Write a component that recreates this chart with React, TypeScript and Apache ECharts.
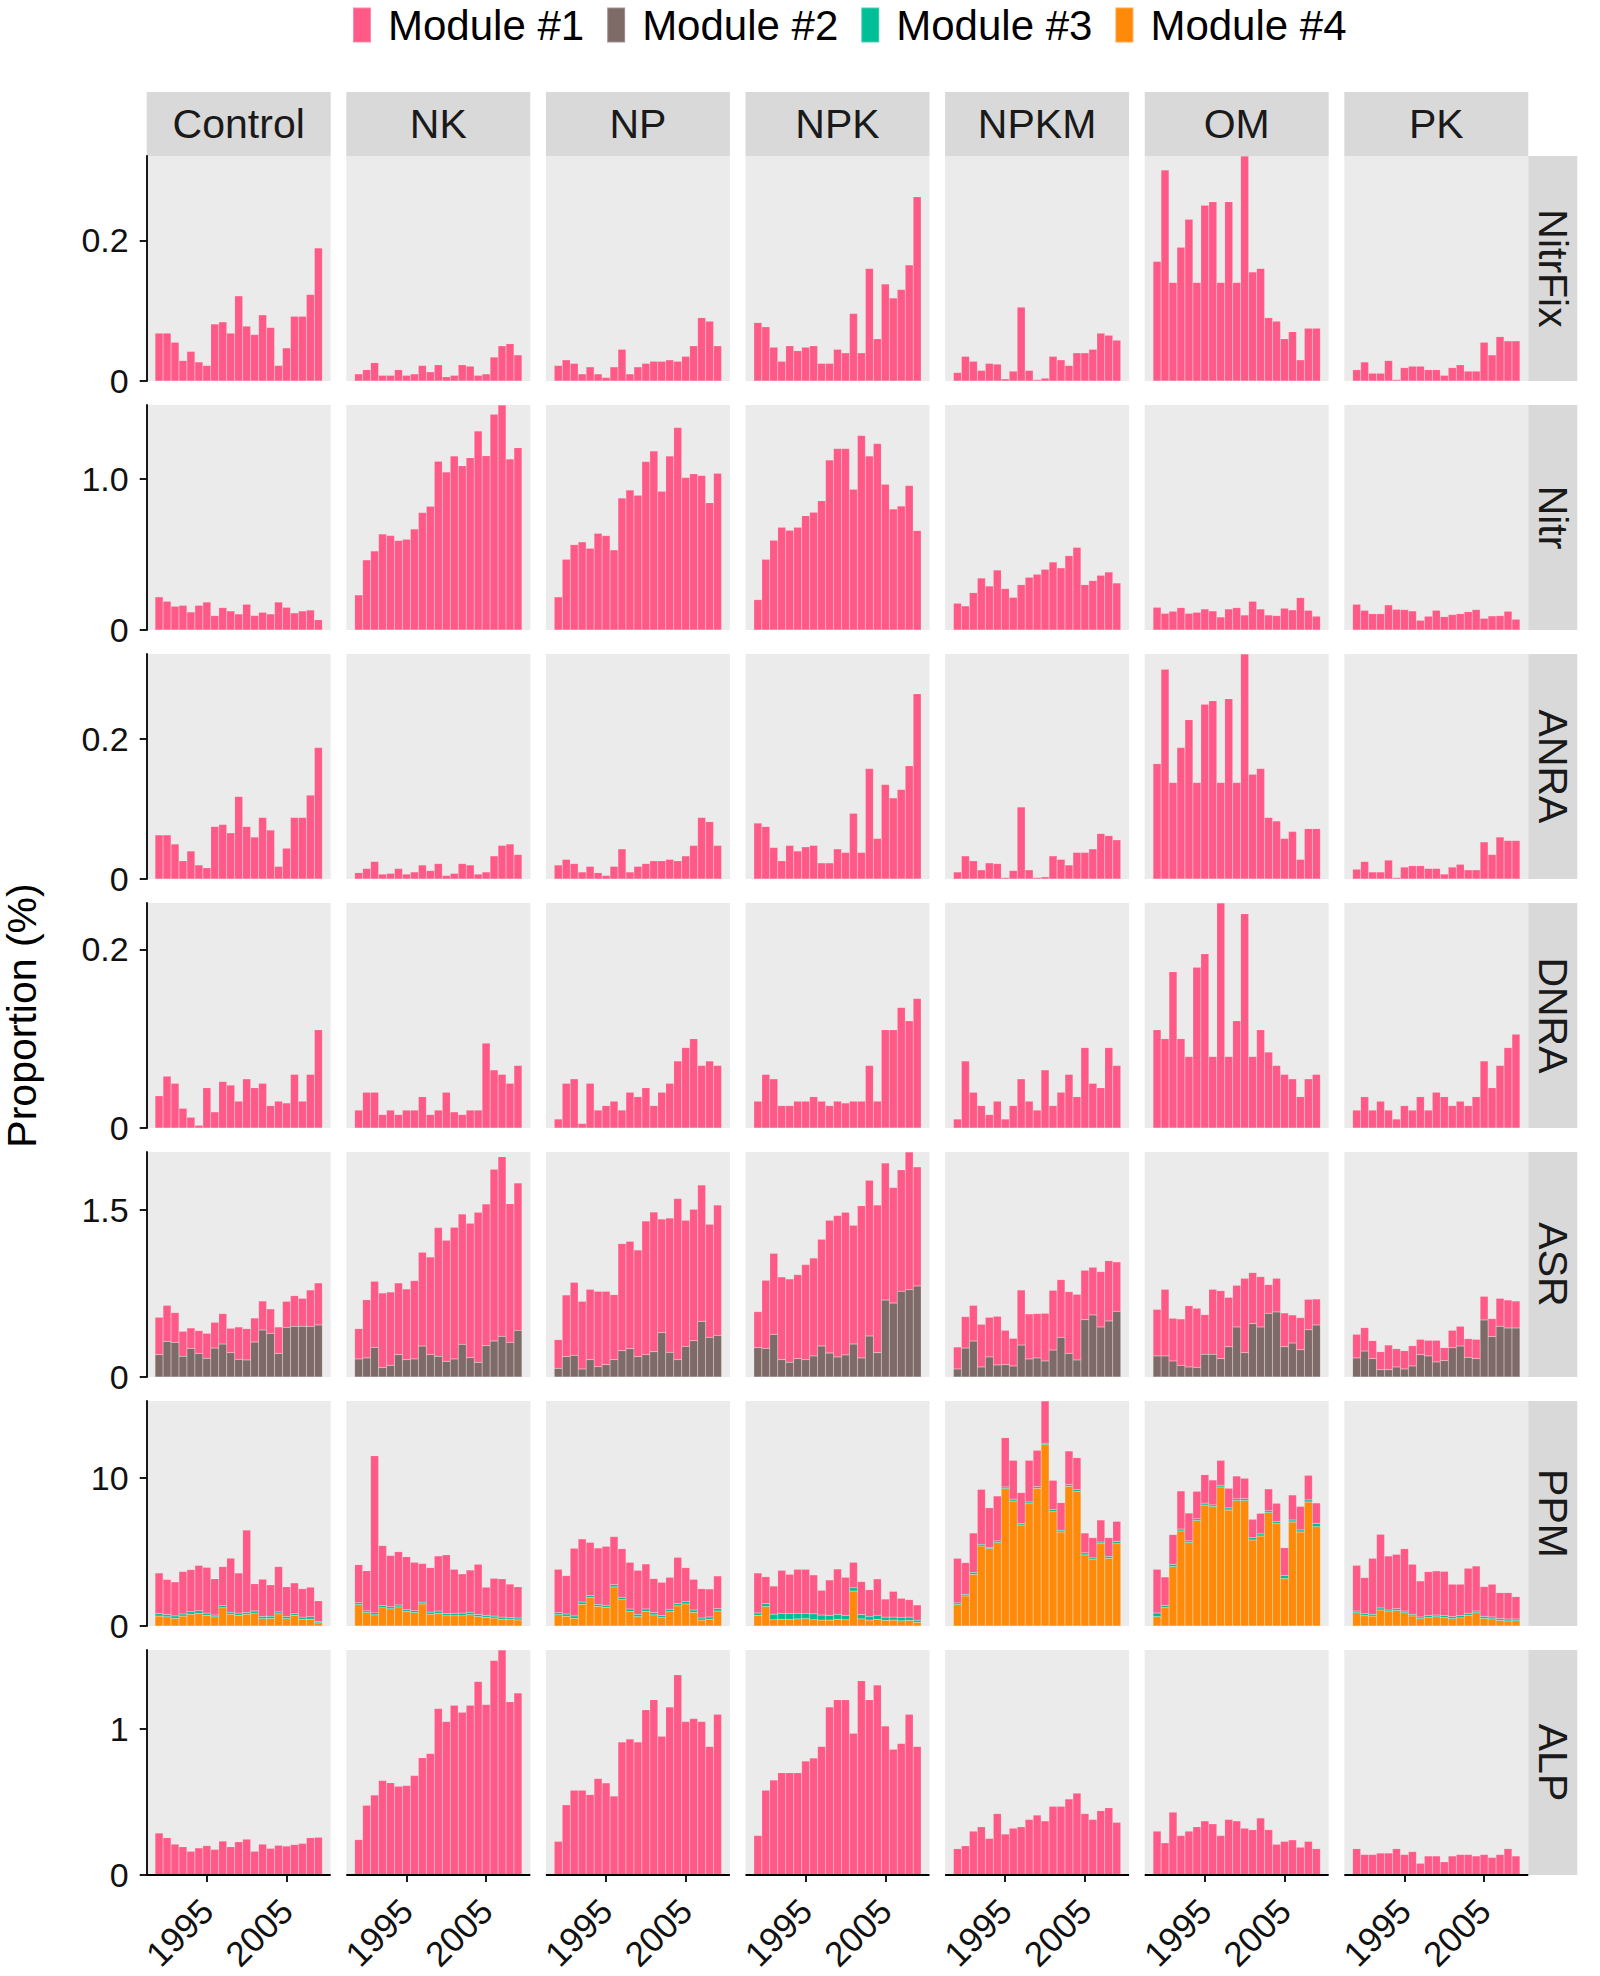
import React, { useEffect, useRef } from "react";
import * as echarts from "echarts";

const years = ["1989", "1990", "1991", "1992", "1993", "1994", "1995", "1996", "1997", "1998", "1999", "2000", "2001", "2002", "2003", "2004", "2005", "2006", "2007", "2008", "2009"];
const treatments = ["Control", "NK", "NP", "NPK", "NPKM", "OM", "PK"];
const pathways = ["NitrFix", "Nitr", "ANRA", "DNRA", "ASR", "PPM", "ALP"];
const modules = ["Module #1", "Module #2", "Module #3", "Module #4"];
const moduleColors = ["#FF5A87", "#7E6B68", "#00BE95", "#FF8A0A"];

const xTicks = ["1995", "2005"];
const yTicks = [[0, 0.2], [0, 1.0], [0, 0.2], [0, 0.2], [0, 1.5], [0, 10], [0, 1]];
const yTickLabels = [["0", "0.2"], ["0", "1.0"], ["0", "0.2"], ["0", "0.2"], ["0", "1.5"], ["0", "10"], ["0", "1"]];

// Order of inner arrays: Control, NK, NP, NPK, NPKM, OM, PK
const nitrFixM1 = [
  [0.068, 0.068, 0.055, 0.029, 0.042, 0.027, 0.022, 0.081, 0.084, 0.068, 0.121, 0.078, 0.066, 0.094, 0.076, 0.022, 0.047, 0.092, 0.092, 0.123, 0.189],
  [0.010, 0.016, 0.026, 0.008, 0.008, 0.016, 0.008, 0.010, 0.022, 0.013, 0.023, 0.006, 0.008, 0.023, 0.021, 0.008, 0.010, 0.034, 0.050, 0.053, 0.037],
  [0.022, 0.030, 0.025, 0.010, 0.020, 0.010, 0.005, 0.020, 0.045, 0.010, 0.020, 0.025, 0.028, 0.028, 0.030, 0.028, 0.035, 0.050, 0.090, 0.085, 0.050],
  [0.083, 0.077, 0.048, 0.028, 0.050, 0.043, 0.048, 0.050, 0.025, 0.025, 0.045, 0.040, 0.096, 0.040, 0.160, 0.060, 0.138, 0.118, 0.130, 0.165, 0.262],
  [0.012, 0.035, 0.028, 0.015, 0.025, 0.024, 0.003, 0.014, 0.105, 0.015, 0.002, 0.004, 0.035, 0.030, 0.022, 0.040, 0.040, 0.045, 0.068, 0.065, 0.058],
  [0.170, 0.300, 0.140, 0.190, 0.230, 0.140, 0.250, 0.255, 0.140, 0.255, 0.140, 0.320, 0.155, 0.160, 0.090, 0.085, 0.060, 0.070, 0.030, 0.075, 0.075],
  [0.016, 0.027, 0.011, 0.011, 0.029, 0.002, 0.019, 0.021, 0.021, 0.016, 0.016, 0.008, 0.019, 0.023, 0.014, 0.014, 0.055, 0.037, 0.063, 0.057, 0.057],
];

const nitrM1 = [
  [0.219, 0.190, 0.157, 0.163, 0.119, 0.163, 0.185, 0.095, 0.148, 0.126, 0.106, 0.170, 0.095, 0.117, 0.106, 0.185, 0.150, 0.113, 0.126, 0.132, 0.068],
  [0.232, 0.464, 0.523, 0.636, 0.625, 0.592, 0.600, 0.669, 0.777, 0.819, 1.117, 1.046, 1.152, 1.088, 1.141, 1.318, 1.154, 1.428, 1.490, 1.132, 1.207],
  [0.219, 0.468, 0.565, 0.583, 0.541, 0.640, 0.625, 0.530, 0.874, 0.927, 0.892, 1.115, 1.185, 0.918, 1.152, 1.340, 1.009, 1.035, 1.022, 0.843, 1.037],
  [0.201, 0.468, 0.594, 0.680, 0.660, 0.680, 0.757, 0.779, 0.856, 1.126, 1.201, 1.201, 0.932, 1.287, 1.152, 1.234, 0.965, 0.801, 0.821, 0.956, 0.658],
  [0.177, 0.159, 0.247, 0.344, 0.291, 0.397, 0.274, 0.216, 0.300, 0.349, 0.369, 0.402, 0.450, 0.411, 0.492, 0.547, 0.300, 0.327, 0.362, 0.384, 0.311],
  [0.150, 0.110, 0.124, 0.148, 0.110, 0.117, 0.139, 0.126, 0.086, 0.139, 0.148, 0.099, 0.190, 0.139, 0.099, 0.095, 0.144, 0.133, 0.214, 0.130, 0.091],
  [0.170, 0.130, 0.108, 0.108, 0.166, 0.137, 0.135, 0.126, 0.064, 0.091, 0.130, 0.088, 0.102, 0.108, 0.121, 0.135, 0.077, 0.093, 0.095, 0.124, 0.071],
];

const anraM1 = [
  [0.063, 0.063, 0.050, 0.026, 0.040, 0.020, 0.016, 0.075, 0.078, 0.066, 0.118, 0.075, 0.060, 0.088, 0.070, 0.018, 0.044, 0.088, 0.088, 0.120, 0.188],
  [0.009, 0.015, 0.025, 0.007, 0.008, 0.015, 0.007, 0.010, 0.020, 0.012, 0.022, 0.005, 0.008, 0.022, 0.020, 0.007, 0.010, 0.033, 0.048, 0.050, 0.035],
  [0.020, 0.028, 0.022, 0.010, 0.018, 0.009, 0.005, 0.018, 0.043, 0.010, 0.018, 0.022, 0.026, 0.026, 0.028, 0.026, 0.033, 0.048, 0.088, 0.082, 0.048],
  [0.080, 0.075, 0.045, 0.026, 0.048, 0.040, 0.046, 0.048, 0.023, 0.023, 0.043, 0.038, 0.094, 0.038, 0.158, 0.058, 0.135, 0.116, 0.128, 0.162, 0.265],
  [0.010, 0.033, 0.026, 0.013, 0.023, 0.022, 0.002, 0.012, 0.103, 0.013, 0.002, 0.003, 0.033, 0.028, 0.020, 0.038, 0.038, 0.043, 0.065, 0.062, 0.056],
  [0.165, 0.300, 0.138, 0.188, 0.228, 0.138, 0.250, 0.255, 0.138, 0.258, 0.138, 0.322, 0.150, 0.158, 0.088, 0.083, 0.058, 0.068, 0.028, 0.072, 0.072],
  [0.014, 0.025, 0.010, 0.010, 0.027, 0.002, 0.017, 0.019, 0.019, 0.015, 0.015, 0.007, 0.017, 0.021, 0.013, 0.013, 0.053, 0.035, 0.060, 0.055, 0.055],
];

const dnraM1 = [
  [0.036, 0.058, 0.050, 0.022, 0.012, 0.003, 0.045, 0.018, 0.052, 0.048, 0.030, 0.055, 0.045, 0.050, 0.025, 0.030, 0.028, 0.060, 0.030, 0.060, 0.110],
  [0.020, 0.040, 0.040, 0.015, 0.020, 0.015, 0.020, 0.020, 0.035, 0.015, 0.020, 0.040, 0.018, 0.015, 0.020, 0.020, 0.095, 0.065, 0.060, 0.050, 0.070],
  [0.010, 0.050, 0.055, 0.005, 0.050, 0.020, 0.025, 0.030, 0.020, 0.040, 0.035, 0.045, 0.025, 0.040, 0.050, 0.075, 0.090, 0.100, 0.070, 0.075, 0.070],
  [0.030, 0.060, 0.055, 0.025, 0.025, 0.030, 0.030, 0.035, 0.030, 0.025, 0.030, 0.028, 0.030, 0.030, 0.070, 0.030, 0.110, 0.110, 0.135, 0.120, 0.145],
  [0.010, 0.075, 0.040, 0.025, 0.015, 0.030, 0.010, 0.025, 0.055, 0.030, 0.020, 0.065, 0.025, 0.040, 0.060, 0.035, 0.090, 0.050, 0.045, 0.090, 0.070],
  [0.110, 0.100, 0.175, 0.100, 0.080, 0.180, 0.195, 0.080, 0.252, 0.080, 0.120, 0.240, 0.080, 0.110, 0.085, 0.070, 0.060, 0.055, 0.035, 0.055, 0.060],
  [0.020, 0.035, 0.020, 0.030, 0.020, 0.010, 0.025, 0.020, 0.035, 0.020, 0.040, 0.035, 0.025, 0.030, 0.025, 0.035, 0.075, 0.045, 0.070, 0.090, 0.105],
];

const asrM1 = [
  [0.335, 0.323, 0.267, 0.224, 0.183, 0.204, 0.224, 0.231, 0.273, 0.219, 0.290, 0.281, 0.216, 0.260, 0.219, 0.237, 0.233, 0.275, 0.251, 0.326, 0.377],
  [0.272, 0.523, 0.593, 0.670, 0.658, 0.643, 0.634, 0.703, 0.841, 0.876, 1.155, 1.086, 1.182, 1.170, 1.206, 1.346, 1.272, 1.541, 1.613, 1.245, 1.323],
  [0.257, 0.553, 0.655, 0.607, 0.631, 0.676, 0.658, 0.583, 0.961, 0.964, 0.957, 1.199, 1.254, 1.020, 1.207, 1.445, 1.131, 1.179, 1.224, 1.015, 1.170],
  [0.324, 0.611, 0.727, 0.742, 0.748, 0.754, 0.853, 0.879, 0.958, 1.192, 1.269, 1.281, 1.066, 1.367, 1.398, 1.326, 1.230, 1.036, 1.092, 1.236, 1.069],
  [0.197, 0.282, 0.320, 0.383, 0.356, 0.437, 0.308, 0.248, 0.494, 0.404, 0.398, 0.428, 0.536, 0.518, 0.554, 0.589, 0.443, 0.428, 0.497, 0.541, 0.443],
  [0.418, 0.598, 0.383, 0.416, 0.550, 0.530, 0.356, 0.583, 0.610, 0.443, 0.374, 0.668, 0.458, 0.452, 0.257, 0.302, 0.303, 0.252, 0.288, 0.272, 0.233],
  [0.212, 0.210, 0.161, 0.161, 0.221, 0.164, 0.164, 0.182, 0.138, 0.140, 0.194, 0.116, 0.156, 0.177, 0.167, 0.173, 0.212, 0.162, 0.251, 0.251, 0.242],
];
const asrM2 = [
  [0.201, 0.320, 0.311, 0.186, 0.257, 0.212, 0.168, 0.260, 0.296, 0.218, 0.159, 0.153, 0.314, 0.422, 0.392, 0.212, 0.446, 0.455, 0.455, 0.455, 0.467],
  [0.162, 0.171, 0.266, 0.084, 0.105, 0.201, 0.156, 0.162, 0.278, 0.201, 0.186, 0.141, 0.162, 0.293, 0.174, 0.132, 0.281, 0.323, 0.365, 0.311, 0.419],
  [0.078, 0.183, 0.195, 0.072, 0.156, 0.093, 0.111, 0.156, 0.236, 0.254, 0.183, 0.201, 0.227, 0.398, 0.221, 0.156, 0.275, 0.326, 0.500, 0.356, 0.374],
  [0.263, 0.257, 0.383, 0.156, 0.132, 0.165, 0.156, 0.189, 0.278, 0.215, 0.180, 0.198, 0.296, 0.171, 0.368, 0.218, 0.691, 0.664, 0.769, 0.784, 0.817],
  [0.072, 0.260, 0.323, 0.090, 0.180, 0.108, 0.111, 0.099, 0.287, 0.162, 0.171, 0.144, 0.242, 0.356, 0.212, 0.153, 0.515, 0.557, 0.449, 0.503, 0.590],
  [0.189, 0.189, 0.144, 0.105, 0.090, 0.087, 0.204, 0.204, 0.165, 0.272, 0.449, 0.218, 0.479, 0.449, 0.572, 0.584, 0.272, 0.305, 0.245, 0.425, 0.467],
  [0.171, 0.233, 0.165, 0.066, 0.066, 0.090, 0.072, 0.099, 0.200, 0.189, 0.135, 0.147, 0.263, 0.278, 0.177, 0.165, 0.512, 0.362, 0.455, 0.440, 0.440],
];

const ppmM1 = [
  [2.75, 2.37, 2.30, 2.87, 2.85, 3.06, 3.09, 2.45, 2.64, 3.65, 2.71, 5.56, 1.84, 2.51, 2.12, 3.06, 2.01, 2.07, 1.92, 2.00, 1.41],
  [2.57, 2.71, 10.61, 4.05, 3.46, 3.60, 3.58, 3.27, 2.61, 3.00, 3.72, 3.97, 2.97, 2.65, 2.85, 3.39, 1.91, 2.55, 2.59, 2.27, 2.11],
  [2.93, 2.59, 4.57, 4.26, 3.58, 3.81, 3.98, 3.25, 3.28, 3.15, 2.97, 3.04, 2.30, 2.25, 2.16, 3.13, 2.27, 2.07, 1.98, 1.89, 2.21],
  [2.70, 1.82, 1.90, 2.91, 2.64, 2.97, 2.97, 2.63, 1.67, 2.39, 3.06, 2.57, 1.72, 2.22, 1.79, 2.45, 1.22, 1.74, 1.28, 1.18, 1.03],
  [3.01, 2.14, 2.66, 3.71, 2.67, 3.03, 3.33, 2.62, 2.09, 2.81, 2.46, 2.85, 1.99, 1.86, 2.27, 2.17, 1.34, 1.37, 1.49, 1.27, 1.36],
  [2.95, 1.93, 2.01, 2.57, 1.88, 1.86, 1.92, 1.68, 1.68, 1.32, 1.54, 1.38, 1.25, 1.39, 1.48, 1.25, 1.87, 1.69, 1.59, 1.66, 1.38],
  [3.09, 2.44, 3.78, 4.97, 3.65, 3.67, 4.21, 3.38, 2.43, 2.97, 2.98, 2.99, 2.19, 2.12, 3.04, 3.04, 2.01, 2.21, 1.75, 1.78, 1.51],
];
const ppmM3 = [
  [0.16, 0.15, 0.17, 0.14, 0.16, 0.18, 0.15, 0.12, 0.14, 0.13, 0.15, 0.12, 0.14, 0.16, 0.15, 0.13, 0.15, 0.12, 0.14, 0.16, 0.08],
  [0.13, 0.12, 0.14, 0.15, 0.14, 0.13, 0.12, 0.13, 0.12, 0.14, 0.16, 0.15, 0.17, 0.18, 0.16, 0.14, 0.12, 0.13, 0.14, 0.12, 0.13],
  [0.14, 0.15, 0.16, 0.15, 0.14, 0.13, 0.14, 0.15, 0.16, 0.18, 0.16, 0.17, 0.15, 0.14, 0.16, 0.15, 0.18, 0.16, 0.14, 0.15, 0.16],
  [0.16, 0.20, 0.38, 0.40, 0.40, 0.38, 0.36, 0.40, 0.34, 0.32, 0.34, 0.30, 0.22, 0.30, 0.26, 0.28, 0.22, 0.20, 0.24, 0.22, 0.14],
  [0.12, 0.11, 0.13, 0.12, 0.10, 0.12, 0.11, 0.13, 0.10, 0.12, 0.11, 0.10, 0.13, 0.12, 0.11, 0.12, 0.14, 0.12, 0.11, 0.13, 0.15],
  [0.25, 0.14, 0.15, 0.13, 0.12, 0.12, 0.13, 0.12, 0.12, 0.14, 0.12, 0.13, 0.15, 0.14, 0.12, 0.13, 0.22, 0.13, 0.14, 0.14, 0.22],
  [0.12, 0.13, 0.12, 0.14, 0.12, 0.13, 0.12, 0.11, 0.12, 0.13, 0.12, 0.13, 0.14, 0.15, 0.13, 0.12, 0.14, 0.13, 0.12, 0.13, 0.12],
];
const ppmM4 = [
  [0.67, 0.62, 0.51, 0.67, 0.80, 0.85, 0.72, 0.62, 1.23, 0.80, 0.72, 0.80, 0.87, 0.49, 0.51, 0.82, 0.49, 0.72, 0.46, 0.46, 0.21],
  [1.44, 0.90, 0.75, 1.23, 1.16, 1.29, 0.98, 0.90, 1.49, 0.80, 0.85, 0.69, 0.69, 0.69, 0.77, 0.64, 0.59, 0.54, 0.46, 0.44, 0.41],
  [0.76, 0.66, 0.52, 1.47, 1.93, 1.33, 1.26, 2.64, 1.78, 0.97, 0.63, 0.98, 0.75, 0.56, 0.97, 1.36, 1.49, 0.92, 0.40, 0.46, 1.01],
  [0.72, 1.31, 0.42, 0.45, 0.45, 0.48, 0.50, 0.42, 0.40, 0.40, 0.45, 0.42, 2.36, 0.48, 0.40, 0.45, 0.38, 0.40, 0.35, 0.38, 0.25],
  [1.44, 2.03, 3.49, 5.40, 5.22, 5.63, 9.28, 8.44, 6.82, 8.26, 9.30, 12.25, 7.72, 6.35, 9.44, 9.08, 4.80, 4.48, 5.56, 4.57, 5.56],
  [0.63, 1.24, 4.01, 6.42, 5.63, 7.12, 8.17, 8.06, 9.39, 7.84, 8.47, 8.47, 5.81, 6.08, 7.66, 6.91, 3.20, 7.03, 6.35, 8.38, 6.71],
  [0.89, 0.70, 0.67, 1.08, 0.96, 1.04, 0.89, 0.68, 0.49, 0.57, 0.62, 0.57, 0.49, 0.55, 0.73, 0.89, 0.51, 0.48, 0.38, 0.34, 0.35],
];

const alpM1 = [
  [0.287, 0.255, 0.211, 0.193, 0.162, 0.185, 0.201, 0.175, 0.232, 0.193, 0.227, 0.245, 0.162, 0.211, 0.182, 0.203, 0.198, 0.208, 0.216, 0.255, 0.258],
  [0.242, 0.477, 0.547, 0.646, 0.631, 0.607, 0.612, 0.680, 0.803, 0.831, 1.139, 1.050, 1.162, 1.113, 1.162, 1.324, 1.167, 1.467, 1.540, 1.186, 1.246],
  [0.230, 0.480, 0.580, 0.580, 0.550, 0.660, 0.630, 0.540, 0.910, 0.930, 0.910, 1.130, 1.200, 0.950, 1.150, 1.370, 1.050, 1.070, 1.050, 0.880, 1.100],
  [0.270, 0.580, 0.650, 0.700, 0.700, 0.700, 0.780, 0.800, 0.880, 1.150, 1.200, 1.200, 0.970, 1.330, 1.200, 1.300, 1.020, 0.860, 0.900, 1.100, 0.880],
  [0.180, 0.200, 0.300, 0.330, 0.250, 0.420, 0.280, 0.320, 0.330, 0.380, 0.410, 0.370, 0.470, 0.470, 0.520, 0.560, 0.420, 0.380, 0.440, 0.460, 0.360],
  [0.300, 0.220, 0.430, 0.270, 0.300, 0.330, 0.370, 0.350, 0.270, 0.380, 0.370, 0.320, 0.310, 0.390, 0.310, 0.210, 0.230, 0.240, 0.190, 0.230, 0.180],
  [0.180, 0.140, 0.140, 0.150, 0.150, 0.180, 0.140, 0.160, 0.080, 0.130, 0.130, 0.090, 0.130, 0.140, 0.140, 0.130, 0.140, 0.120, 0.140, 0.180, 0.130],
];

// per pathway: [Module #1, Module #2, Module #3, Module #4]
const rowModules: (number[][] | null)[][] = [
  [nitrFixM1, null, null, null],
  [nitrM1, null, null, null],
  [anraM1, null, null, null],
  [dnraM1, null, null, null],
  [asrM1, asrM2, null, null],
  [ppmM1, null, ppmM3, ppmM4],
  [alpM1, null, null, null],
];

const FONT = "'Liberation Sans', Arial, Helvetica, sans-serif";
const PANEL_LEFT = 146.7;
const PITCH_X = 199.6;
const PANEL_W = 184;
const PANEL_TOP = 156;
const PITCH_Y = 249;
const PANEL_H = 225;
const STRIP_TOP = 64;
const STRIP_RIGHT = 49;
const EXPAND = 1.05; // panel padding each side, in bar units

function buildOption() {
  const grid: any[] = [];
  const xAxis: any[] = [];
  const yAxis: any[] = [];
  const series: any[] = [];
  const graphic: any[] = [];
  const band = PANEL_W / (years.length + 2 * EXPAND);
  const pad = band * EXPAND;

  const rowMax = rowModules.map((mods) => {
    let mx = 0;
    for (let c = 0; c < treatments.length; c++) {
      for (let i = 0; i < years.length; i++) {
        let s = 0;
        mods.forEach((m) => {
          if (m) s += m[c][i];
        });
        if (s > mx) mx = s;
      }
    }
    return mx;
  });

  pathways.forEach((p, r) => {
    treatments.forEach((t, c) => {
      const idx = grid.length;
      const left = PANEL_LEFT + c * PITCH_X;
      const top = PANEL_TOP + r * PITCH_Y;
      graphic.push({
        type: "rect", z: -10, silent: true,
        shape: { x: left, y: top, width: PANEL_W, height: PANEL_H },
        style: { fill: "#EBEBEB" },
      });
      grid.push({
        left: left + pad, top, width: PANEL_W - 2 * pad, height: PANEL_H,
        show: false, containLabel: false,
      });
      const bottomRow = r === pathways.length - 1;
      if (bottomRow) {
        graphic.push({
          type: "line", silent: true, z: 5,
          shape: { x1: left, y1: top + PANEL_H, x2: left + PANEL_W, y2: top + PANEL_H },
          style: { stroke: "#000", lineWidth: 1.8 },
        });
      }
      xAxis.push({
        gridIndex: idx, type: "category", data: years, boundaryGap: true,
        show: bottomRow,
        axisLine: { show: false, onZero: false },
        axisTick: {
          show: true, length: 7, alignWithLabel: true,
          interval: (i: number, v: string) => xTicks.indexOf(v) >= 0,
          lineStyle: { color: "#000", width: 1.8 },
        },
        axisLabel: {
          show: true, rotate: 45, fontSize: 35, color: "#111", fontFamily: FONT, margin: 30,
          interval: (i: number, v: string) => xTicks.indexOf(v) >= 0,
        },
        splitLine: { show: false },
      });
      const ticks = yTicks[r];
      const labs = yTickLabels[r];
      yAxis.push({
        gridIndex: idx, type: "value", min: 0, max: rowMax[r],
        show: c === 0, offset: pad,
        axisLine: { show: true, onZero: false, lineStyle: { color: "#000", width: 1.8 } },
        axisTick: { show: true, length: 7, customValues: ticks, lineStyle: { color: "#000", width: 1.8 } },
        axisLabel: {
          show: true, customValues: ticks, fontSize: 34, color: "#111", fontFamily: FONT, margin: 18,
          formatter: (v: number) => {
            let best = 0;
            ticks.forEach((tv, k) => { if (Math.abs(tv - v) < Math.abs(ticks[best] - v)) best = k; });
            return labs[best];
          },
        },
        splitLine: { show: false },
      });
      const mods = rowModules[r];
      [3, 2, 1, 0].forEach((m) => {
        const arr = mods[m];
        if (!arr) return;
        series.push({
          type: "bar", name: modules[m], xAxisIndex: idx, yAxisIndex: idx,
          stack: "panel" + idx, barWidth: "100%", silent: true,
          itemStyle: { color: moduleColors[m], borderColor: "rgba(255,255,255,0.28)", borderWidth: 0.4 },
          emphasis: { disabled: true },
          data: arr[c],
        });
      });
    });
  });

  treatments.forEach((t, c) => {
    const left = PANEL_LEFT + c * PITCH_X;
    graphic.push({ type: "rect", shape: { x: left, y: PANEL_TOP - STRIP_TOP, width: PANEL_W, height: STRIP_TOP }, style: { fill: "#D9D9D9" }, silent: true });
    graphic.push({
      type: "text", x: left + PANEL_W / 2, y: PANEL_TOP - STRIP_TOP / 2,
      style: { text: t, fontSize: 41, fontFamily: FONT, fill: "#1A1A1A", align: "center", verticalAlign: "middle" }, silent: true,
    });
  });
  const stripX = PANEL_LEFT + 6 * PITCH_X + PANEL_W;
  pathways.forEach((p, r) => {
    const top = PANEL_TOP + r * PITCH_Y;
    graphic.push({ type: "rect", shape: { x: stripX, y: top, width: STRIP_RIGHT, height: PANEL_H }, style: { fill: "#D9D9D9" }, silent: true });
    graphic.push({
      type: "text", x: stripX + STRIP_RIGHT / 2, y: top + PANEL_H / 2, rotation: -Math.PI / 2,
      style: { text: p, fontSize: 41, fontFamily: FONT, fill: "#1A1A1A", align: "center", verticalAlign: "middle" }, silent: true,
    });
  });
  graphic.push({
    type: "text", x: 22, y: PANEL_TOP + (6 * PITCH_Y + PANEL_H) / 2, rotation: Math.PI / 2,
    style: { text: "Proportion (%)", fontSize: 41, fontFamily: FONT, fill: "#000", align: "center", verticalAlign: "middle" }, silent: true,
  });

  return {
    animation: false,
    backgroundColor: "#FFFFFF",
    legend: {
      data: modules, top: 4, left: 352, padding: 0, icon: "rect", itemWidth: 18, itemHeight: 35, itemGap: 22,
      selectedMode: false,
      textStyle: { fontSize: 42, fontFamily: FONT, color: "#000", padding: [0, 0, 0, 12], lineHeight: 35 },
    },
    grid, xAxis, yAxis, series, graphic,
  };
}

export default function App() {
  const ref = useRef<HTMLDivElement>(null);
  useEffect(() => {
    document.body.style.margin = "0";
    if (!ref.current) return;
    const chart = echarts.init(ref.current, undefined, { renderer: "svg" });
    chart.setOption(buildOption() as any);
    return () => chart.dispose();
  }, []);
  return <div ref={ref} style={{ width: 1600, height: 1976 }} />;
}
